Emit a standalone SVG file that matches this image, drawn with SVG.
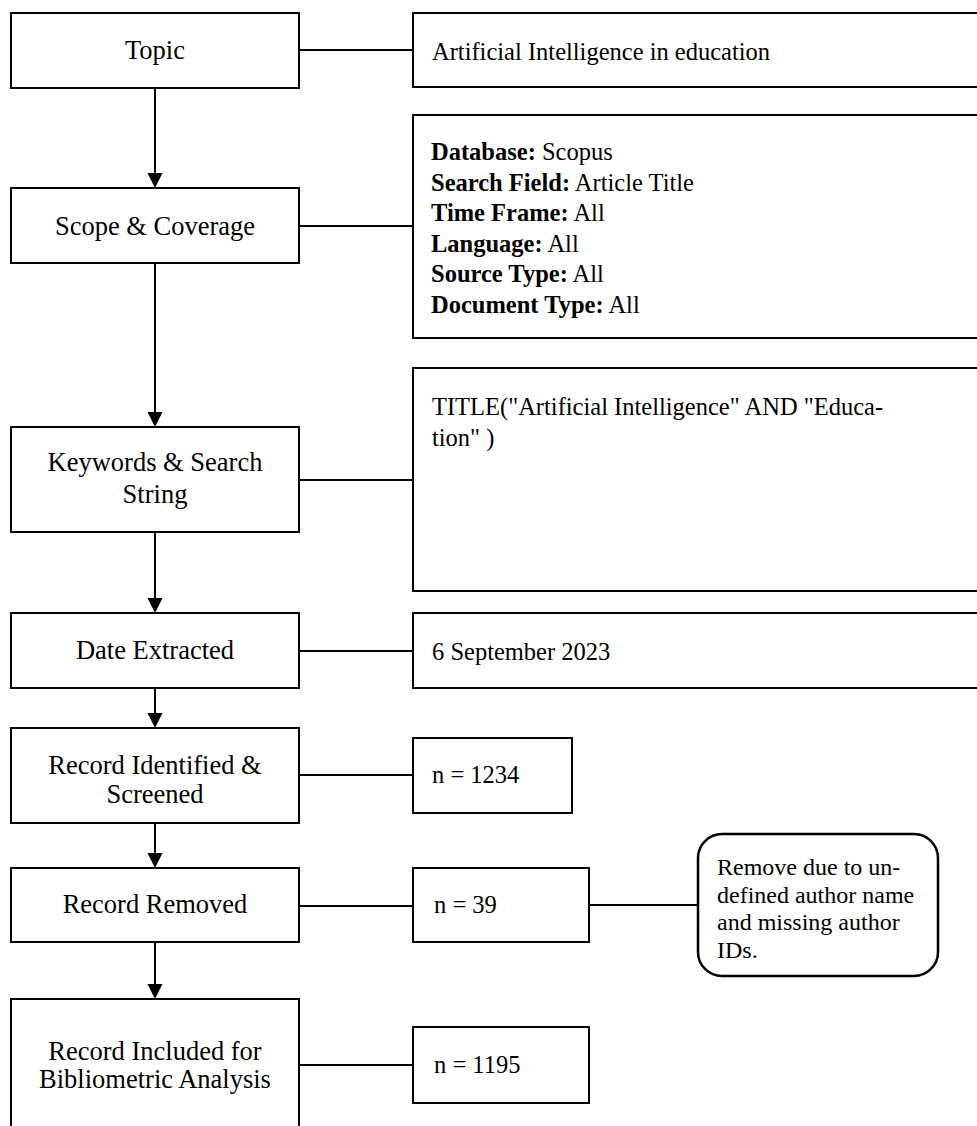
<svg xmlns="http://www.w3.org/2000/svg" width="977" height="1126" viewBox="0 0 977 1126">
<style>
.box{fill:#fff;stroke:#000;stroke-width:2}
.rbox{fill:#fff;stroke:#000;stroke-width:2.5}
.ln{fill:none;stroke:#000;stroke-width:2}
.t{font-family:"Liberation Serif","Times New Roman",serif;font-size:26.5px;fill:#000}
.c{text-anchor:middle}
.r{font-size:24.5px}
.b{font-weight:bold}
</style>
<defs>
<marker id="ah" markerWidth="8" markerHeight="8" refX="7.5" refY="4" orient="auto" markerUnits="userSpaceOnUse" viewBox="0 0 8 8">
<path d="M0,0 L8,4 L0,8 Z" fill="#000"/>
</marker>
</defs>
<rect width="977" height="1126" fill="#fff"/>
<g id="connectors">
<line class="ln" x1="155" y1="88" x2="155" y2="175"/>
<path d="M147.5,173 L162.5,173 L155,188 Z"/>
<line class="ln" x1="155" y1="263" x2="155" y2="414"/>
<path d="M147.5,412 L162.5,412 L155,427 Z"/>
<line class="ln" x1="155" y1="532" x2="155" y2="600"/>
<path d="M147.5,598 L162.5,598 L155,613 Z"/>
<line class="ln" x1="155" y1="688" x2="155" y2="715"/>
<path d="M147.5,713 L162.5,713 L155,728 Z"/>
<line class="ln" x1="155" y1="823" x2="155" y2="855"/>
<path d="M147.5,853 L162.5,853 L155,868 Z"/>
<line class="ln" x1="155" y1="942" x2="155" y2="986"/>
<path d="M147.5,984 L162.5,984 L155,999 Z"/>
<line class="ln" x1="299" y1="50" x2="413" y2="50"/>
<line class="ln" x1="299" y1="226" x2="413" y2="226"/>
<line class="ln" x1="299" y1="480" x2="413" y2="480"/>
<line class="ln" x1="299" y1="651" x2="413" y2="651"/>
<line class="ln" x1="299" y1="775" x2="413" y2="775"/>
<line class="ln" x1="299" y1="906" x2="413" y2="906"/>
<line class="ln" x1="299" y1="1065" x2="413" y2="1065"/>
<line class="ln" x1="589" y1="905" x2="698" y2="905"/>
</g>
<g id="topic">
<rect class="box" x="11" y="13" width="288" height="75"/>
<text class="t c" x="155" y="59">Topic</text>
</g>
<g id="topic-value">
<rect class="box" x="413" y="13" width="580" height="74"/>
<text class="t r" x="432" y="60">Artificial Intelligence in education</text>
</g>
<g id="scope">
<rect class="box" x="11" y="188" width="288" height="75"/>
<text class="t c" x="155" y="235">Scope &amp; Coverage</text>
</g>
<g id="scope-value">
<rect class="box" x="413" y="115" width="580" height="223"/>
<text class="t r" x="431" y="160"><tspan class="b">Database:</tspan> Scopus</text>
<text class="t r" x="431" y="190.5"><tspan class="b">Search Field:</tspan> Article Title</text>
<text class="t r" x="431" y="221"><tspan class="b">Time Frame:</tspan> All</text>
<text class="t r" x="431" y="251.5"><tspan class="b">Language:</tspan> All</text>
<text class="t r" x="431" y="282"><tspan class="b">Source Type:</tspan> All</text>
<text class="t r" x="431" y="312.5"><tspan class="b">Document Type:</tspan> All</text>
</g>
<g id="keywords">
<rect class="box" x="11" y="427" width="288" height="105"/>
<text class="t c" x="155" y="471">Keywords &amp; Search</text>
<text class="t c" x="155" y="503">String</text>
</g>
<g id="keywords-value">
<rect class="box" x="413" y="368" width="580" height="223"/>
<text class="t r" x="432" y="415">TITLE("Artificial Intelligence" AND "Educa-</text>
<text class="t r" x="432" y="446">tion" )</text>
</g>
<g id="date">
<rect class="box" x="11" y="613" width="288" height="75"/>
<text class="t c" x="155" y="659">Date Extracted</text>
</g>
<g id="date-value">
<rect class="box" x="413" y="613" width="580" height="75"/>
<text class="t r" x="432" y="660">6 September 2023</text>
</g>
<g id="identified">
<rect class="box" x="11" y="728" width="288" height="95"/>
<text class="t c" x="155" y="774">Record Identified &amp;</text>
<text class="t c" x="155" y="803">Screened</text>
</g>
<g id="identified-value">
<rect class="box" x="413" y="738" width="159" height="75"/>
<text class="t r" x="432" y="783">n = 1234</text>
</g>
<g id="removed">
<rect class="box" x="11" y="868" width="288" height="74"/>
<text class="t c" x="155" y="913">Record Removed</text>
</g>
<g id="removed-value">
<rect class="box" x="413" y="868" width="176" height="74"/>
<text class="t r" x="434" y="913">n = 39</text>
</g>
<g id="removed-reason">
<rect class="rbox" x="698" y="834" width="240" height="142" rx="24" ry="24"/>
<text class="t" style="font-size:24px" x="717" y="875">Remove due to un-</text>
<text class="t" style="font-size:24px" x="717" y="902.5">defined author name</text>
<text class="t" style="font-size:24px" x="717" y="930">and missing author</text>
<text class="t" style="font-size:24px" x="717" y="957.5">IDs.</text>
</g>
<g id="included">
<rect class="box" x="11" y="999" width="288" height="140"/>
<text class="t c" x="155" y="1060">Record Included for</text>
<text class="t c" x="155" y="1088">Bibliometric Analysis</text>
</g>
<g id="included-value">
<rect class="box" x="413" y="1027" width="176" height="76"/>
<text class="t r" x="434" y="1073">n = 1195</text>
</g>
</svg>
